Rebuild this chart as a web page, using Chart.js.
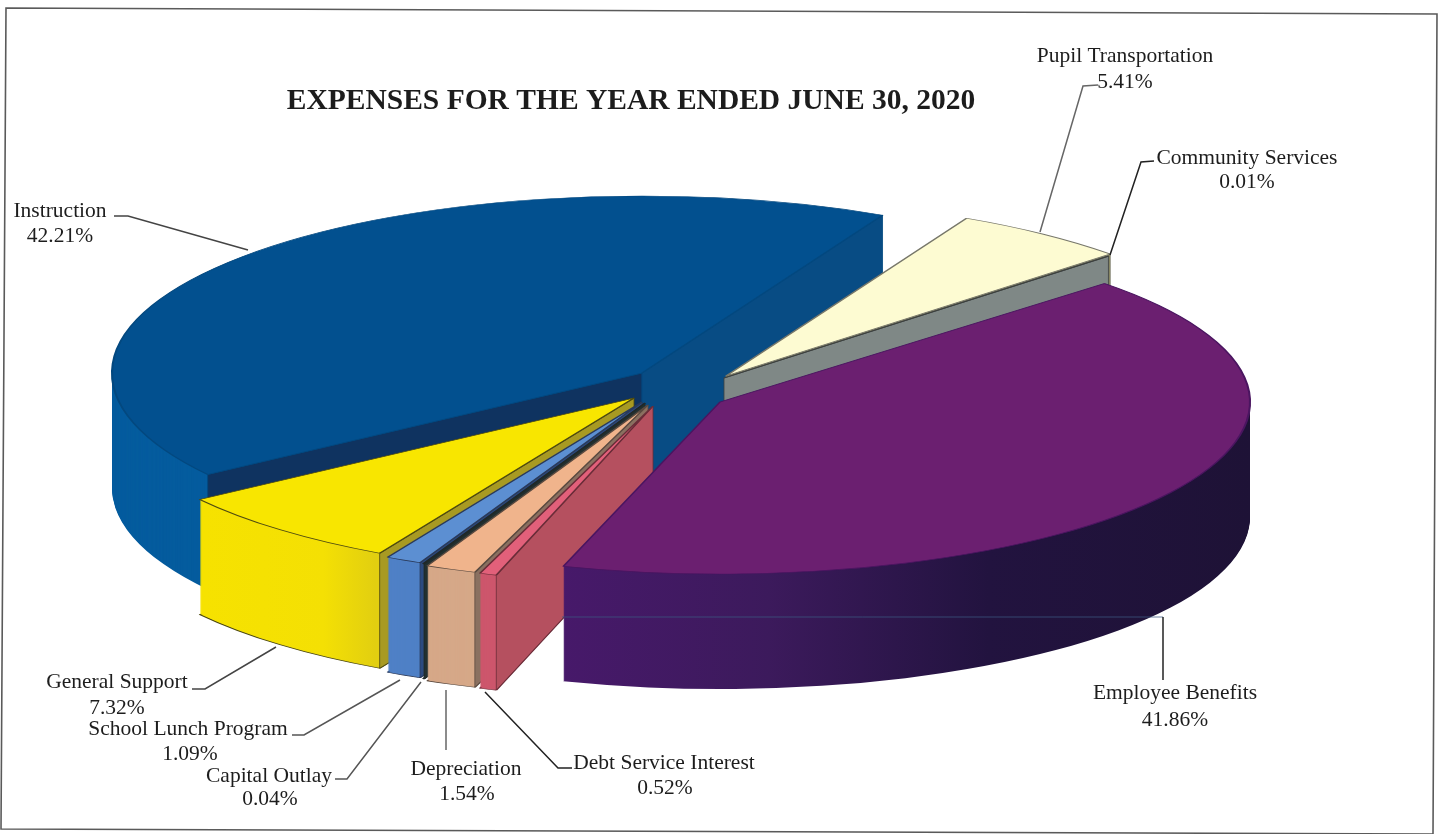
<!DOCTYPE html>
<html><head><meta charset="utf-8">
<style>html,body{margin:0;padding:0;background:#fff}canvas{display:block}</style>
<script src="https://cdn.jsdelivr.net/npm/chart.js@4"></script>
</head><body><canvas id="c" width="1442" height="834"></canvas>
<script>
const titleText = "EXPENSES FOR THE YEAR ENDED JUNE 30, 2020";
const categories = ["Employee Benefits","Debt Service Interest","Depreciation","Capital Outlay","School Lunch Program","General Support","Instruction","Pupil Transportation","Community Services"];
const values = [41.86,0.52,1.54,0.04,1.09,7.32,42.21,5.41,0.01];
const valueLabels = ["41.86%","0.52%","1.54%","0.04%","1.09%","7.32%","42.21%","5.41%","0.01%"];

const topColors  = ["#6b1f70","#e2607a","#f0b48c","#3b4a4a","#5c8fd2","#f8e600","#02508f","#fdfbd2","#5a5a40"];
const wallColors = ["#2a1548","#cd566c","#d6a888","#2b3a3a","#4f80c6","#f2dc06","#055c9e","#e8e6c0","#7f8886"];
const startFaceColors = ["#3f1a5e","#b5505f","#8a7060","#223030","#2c4a80","#a89a22","#0f3360","#8c8a60","#7f8886"];
const endFaceColors   = ["#3f1a5e","#b5505f","#8a7060","#223030","#2c4a80","#a89a22","#084c84","#8c8a60","#7f8886"];
const edgeColors = ["#4a1560","#6a2c38","#5a4a40","#202828","#2a3a5a","#4e4a10","#03487f","#77776a","#3c4040"];
// screen position of each slice's tip (exploded layout)
const tips = [[720,402],[653,406],[648,405],[645,403],[642,402],[634,398],[642,373],[726,376],[724,378]];
const radiiY = [172,177,177,177,177,177,177,177,177];
const drawOrder = [6,7,8,5,4,3,2,1,0];
const RX = 530, DEPTH = 115, ROT = 46.5;

const callouts = [
 {i:0, at:[1175,693], v:[1175,720], line:[[1163,617],[1163,680]], c:"#222"},
 {i:1, at:[664,763], v:[665,788], line:[[485,692],[558,768],[572,768]], c:"#222"},
 {i:2, at:[466,769], v:[467,794], line:[[446,690],[446,750]], c:"#666"},
 {i:3, at:[269,776], v:[270,799], line:[[421,682],[347,779],[335,779]], c:"#555"},
 {i:4, at:[188,729], v:[190,754], line:[[400,680],[304,735],[292,735]], c:"#555"},
 {i:5, at:[117,682], v:[117,708], line:[[276,647],[205,689],[192,689]], c:"#444"},
 {i:6, at:[60,211], v:[60,236], line:[[248,250],[128,216],[114,216]], c:"#444"},
 {i:7, at:[1125,56], v:[1125,82], line:[[1040,232],[1083,86],[1098,85]], c:"#666"},
 {i:8, at:[1247,158], v:[1247,182], line:[[1110,255],[1141,162],[1154,161]], c:"#222"}
];

function poly(ctx, pts){ ctx.beginPath(); pts.forEach((p,k)=>k?ctx.lineTo(p[0],p[1]):ctx.moveTo(p[0],p[1])); }

const solidPie = {
  id:'solidPie',
  beforeDatasetDraw(chart){
    const ctx = chart.ctx, arcs = chart.getDatasetMeta(0).data;
    const R = arcs[0].outerRadius, sx = RX/R;
    const drawArc = (arc, i, d, fill, edge, bw) => {
      const tip = tips[i];
      ctx.save();
      ctx.translate(tip[0], tip[1]+d); ctx.scale(sx, radiiY[i]/R); ctx.translate(-arc.x, -arc.y);
      const e = Object.create(arc);
      e.options = Object.assign({}, arc.options, {backgroundColor:fill, borderColor:edge, borderWidth:bw, borderAlign:'center', offset:0, spacing:0});
      e.draw(ctx); ctx.restore();
    };
    drawOrder.forEach(i => {
      const arc = arcs[i], tip = tips[i];
      let fill = wallColors[i];
      const lx = X => arc.x + (X - tip[0]) / sx;
      if (i === 0) {
        const g = ctx.createLinearGradient(lx(562),0,lx(1250),0);
        g.addColorStop(0,"#47196a"); g.addColorStop(0.3,"#3c1a5c"); g.addColorStop(0.62,"#22133f"); g.addColorStop(1,"#1e1236");
        fill = g;
      }
      if (i === 5) {
        const g = ctx.createLinearGradient(lx(203),0,lx(375),0);
        g.addColorStop(0,"#f6e200"); g.addColorStop(0.7,"#f4e004"); g.addColorStop(1,"#e2cf10");
        fill = g;
      }
      drawArc(arc, i, DEPTH, fill, edgeColors[i], i===0||i===6?0:1.6);
      for (let d = DEPTH-1; d > 0; d--) drawArc(arc, i, d, fill, fill, 0);
      // radial faces that look towards the viewer
      const pt = a => [tip[0]+RX*Math.cos(a), tip[1]+radiiY[i]*Math.sin(a)];
      const face = (a, col) => {
        const o = pt(a);
        poly(ctx,[[tip[0],tip[1]],o,[o[0],o[1]+DEPTH],[tip[0],tip[1]+DEPTH]]);
        ctx.closePath(); ctx.fillStyle = col; ctx.fill();
        ctx.strokeStyle = edgeColors[i]; ctx.lineWidth = 0.8; ctx.stroke();
      };
      if (Math.cos(arc.startAngle) < 0) face(arc.startAngle, startFaceColors[i]);
      if (Math.cos(arc.endAngle) > 0) face(arc.endAngle, endFaceColors[i]);
      drawArc(arc, i, 0, topColors[i], edgeColors[i], 1.6);
    });
    return false;
  },
  afterDatasetsDraw(chart){
    const ctx = chart.ctx;
    ctx.save();
    ctx.strokeStyle="#5a5a5a"; ctx.lineWidth=1.6;
    poly(ctx,[[6,8],[1437,14],[1433,834],[1,829]]); ctx.closePath(); ctx.stroke();
    ctx.strokeStyle="rgba(60,90,130,.75)"; ctx.lineWidth=1;
    poly(ctx,[[562,617],[1163,617]]); ctx.stroke();
    ctx.textAlign="center"; ctx.textBaseline="middle";
    callouts.forEach(c=>{
      ctx.strokeStyle=c.c; ctx.lineWidth=1.5; poly(ctx,c.line); ctx.stroke();
      ctx.fillStyle="#1d1d1d"; ctx.font="21.5px 'Liberation Serif'";
      ctx.fillText(categories[c.i],c.at[0],c.at[1]);
      ctx.fillText(valueLabels[c.i],c.v[0],c.v[1]);
    });
    ctx.fillStyle="#1c1c1c"; ctx.font="bold 29.5px 'Liberation Serif'";
    ctx.fillText(titleText,631,101);
    ctx.restore();
  }
};

new Chart(document.getElementById('c'),{
  type:'pie',
  data:{labels:categories,datasets:[{data:values,backgroundColor:topColors,borderWidth:0}]},
  options:{responsive:false,animation:false,rotation:ROT,
    layout:{padding:10},
    plugins:{legend:{display:false},tooltip:{enabled:false},title:{display:false}}},
  plugins:[solidPie]
});
</script></body></html>
